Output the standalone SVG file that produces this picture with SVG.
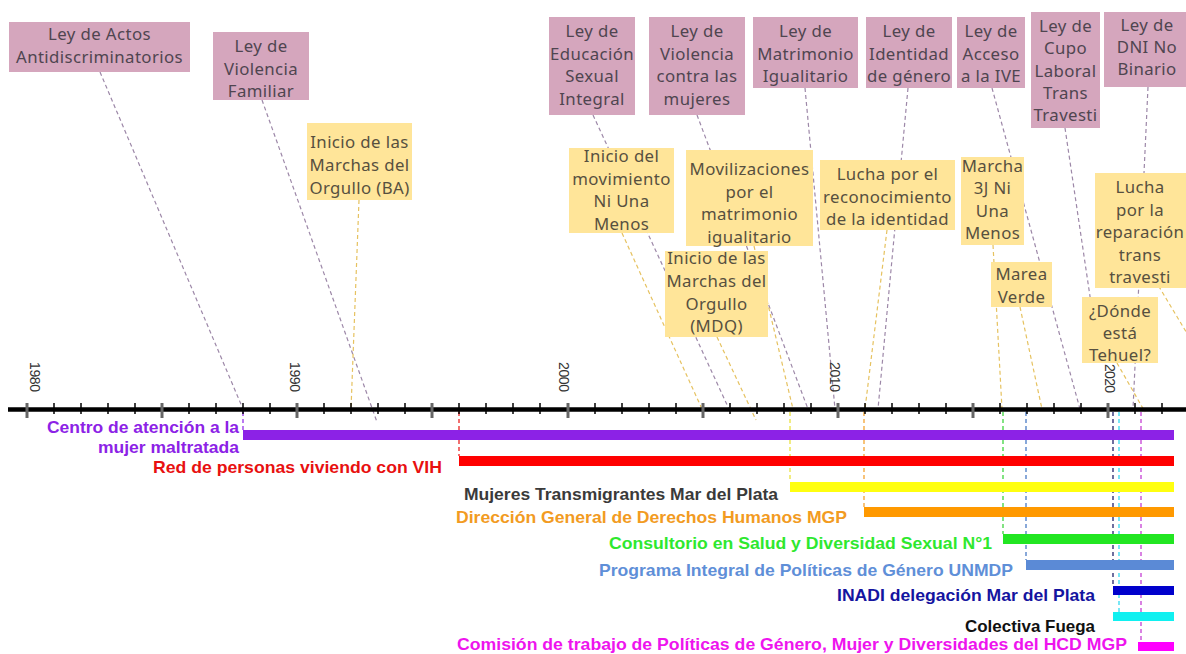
<svg xmlns="http://www.w3.org/2000/svg" width="1186" height="654" viewBox="0 0 1186 654">
<style>
.pk{fill:#d5a6bd}
.yl{fill:#ffe599}
.bt{font-family:"Noto Sans","Open Sans",sans-serif;font-size:16.8px;letter-spacing:0.4px;text-anchor:middle}
.pt{fill:#4f4550}
.yt{fill:#57503f}
.cp{fill:none;stroke:#9d88a8;stroke-width:1.2;stroke-dasharray:4 3}
.cy{fill:none;stroke:#e6c260;stroke-width:1.2;stroke-dasharray:4 3}
.vd{fill:none;stroke-width:1.2;stroke-dasharray:4 3}
.bl{font-family:"Liberation Sans",Arial,sans-serif;font-size:17px;font-weight:bold;text-anchor:end}
.yr{font-family:"Liberation Sans",Arial,sans-serif;font-size:14px;fill:#333}
.mt{stroke:#000;stroke-width:1.5}
.Mt{stroke:#666;stroke-width:3}
</style>
<rect width="1186" height="654" fill="#fff"/>
<g id="connectors">
<line class="cp" x1="100" y1="72" x2="243" y2="409"/>
<line class="cp" x1="262" y1="100" x2="377" y2="422"/>
<line class="cy" x1="359" y1="200" x2="351" y2="409"/>
<line class="cp" x1="593" y1="115" x2="729" y2="409"/>
<line class="cy" x1="622" y1="233" x2="702" y2="409"/>
<line class="cp" x1="697" y1="115" x2="808" y2="409"/>
<line class="cy" x1="717" y1="337" x2="756" y2="420"/>
<line class="cy" x1="754" y1="246" x2="793" y2="409"/>
<line class="cp" x1="805" y1="88" x2="835" y2="409"/>
<line class="cp" x1="908" y1="88" x2="878" y2="409"/>
<line class="cy" x1="887" y1="230" x2="865" y2="409"/>
<line class="cp" x1="992" y1="88" x2="1080" y2="409"/>
<line class="cy" x1="993" y1="245" x2="1002" y2="409"/>
<line class="cy" x1="1020" y1="307" x2="1042" y2="409"/>
<line class="cp" x1="1065" y1="128" x2="1095" y2="330"/>
<line class="cp" x1="1148" y1="87" x2="1133" y2="409"/>
<line class="cy" x1="1117" y1="363" x2="1145" y2="412"/>
<line class="cy" x1="1155" y1="280" x2="1200" y2="355"/>
<line class="vd" stroke="#8c22e6" x1="243" y1="412" x2="243" y2="430"/>
<line class="vd" stroke="#e81010" x1="459" y1="412" x2="459" y2="456"/>
<line class="vd" stroke="#e8e030" x1="790" y1="412" x2="790" y2="482"/>
<line class="vd" stroke="#f29b22" x1="864" y1="412" x2="864" y2="507"/>
<line class="vd" stroke="#30d030" x1="1003" y1="412" x2="1003" y2="534"/>
<line class="vd" stroke="#3a6fc0" x1="1026" y1="412" x2="1026" y2="560"/>
<line class="vd" stroke="#101060" x1="1113" y1="412" x2="1113" y2="586"/>
<line class="vd" stroke="#20d8f0" x1="1119" y1="412" x2="1119" y2="612"/>
<line class="vd" stroke="#c030d0" x1="1141" y1="412" x2="1141" y2="642"/>
</g>
<g id="axis">
<line x1="8" y1="409.5" x2="1186" y2="409.5" stroke="#000" stroke-width="4.5"/>
<g class="mt">
<line x1="54" y1="403" x2="54" y2="414"/><line x1="81" y1="403" x2="81" y2="414"/><line x1="108" y1="403" x2="108" y2="414"/><line x1="135" y1="403" x2="135" y2="414"/>
<line x1="189" y1="403" x2="189" y2="414"/><line x1="216" y1="403" x2="216" y2="414"/><line x1="243" y1="403" x2="243" y2="414"/><line x1="270" y1="403" x2="270" y2="414"/>
<line x1="324" y1="403" x2="324" y2="414"/><line x1="351" y1="403" x2="351" y2="414"/><line x1="378" y1="403" x2="378" y2="414"/><line x1="405" y1="403" x2="405" y2="414"/>
<line x1="459" y1="403" x2="459" y2="414"/><line x1="486" y1="403" x2="486" y2="414"/><line x1="513" y1="403" x2="513" y2="414"/><line x1="540" y1="403" x2="540" y2="414"/>
<line x1="595" y1="403" x2="595" y2="414"/><line x1="622" y1="403" x2="622" y2="414"/><line x1="649" y1="403" x2="649" y2="414"/><line x1="676" y1="403" x2="676" y2="414"/>
<line x1="730" y1="403" x2="730" y2="414"/><line x1="757" y1="403" x2="757" y2="414"/><line x1="784" y1="403" x2="784" y2="414"/><line x1="811" y1="403" x2="811" y2="414"/>
<line x1="865" y1="403" x2="865" y2="414"/><line x1="892" y1="403" x2="892" y2="414"/><line x1="919" y1="403" x2="919" y2="414"/><line x1="946" y1="403" x2="946" y2="414"/>
<line x1="1000" y1="403" x2="1000" y2="414"/><line x1="1027" y1="403" x2="1027" y2="414"/><line x1="1054" y1="403" x2="1054" y2="414"/><line x1="1081" y1="403" x2="1081" y2="414"/>
<line x1="1135" y1="403" x2="1135" y2="414"/><line x1="1162" y1="403" x2="1162" y2="414"/>
</g>
<g class="Mt">
<line x1="27" y1="403" x2="27" y2="418"/><line x1="162" y1="403" x2="162" y2="418"/><line x1="297" y1="403" x2="297" y2="418"/><line x1="432" y1="403" x2="432" y2="418"/>
<line x1="568" y1="403" x2="568" y2="418"/><line x1="703" y1="403" x2="703" y2="418"/><line x1="838" y1="403" x2="838" y2="418"/><line x1="973" y1="403" x2="973" y2="418"/>
<line x1="1108" y1="403" x2="1108" y2="418"/>
</g>
<text class="yr" transform="translate(30,362) rotate(90)" textLength="30">1980</text>
<text class="yr" transform="translate(290,362) rotate(90)" textLength="30">1990</text>
<text class="yr" transform="translate(559,362) rotate(90)" textLength="30">2000</text>
<text class="yr" transform="translate(830,362) rotate(90)" textLength="30">2010</text>
<text class="yr" transform="translate(1105,364) rotate(90)" textLength="29">2020</text>
</g>
<g id="ley-actos"><rect class="pk" x="9" y="22" width="181" height="50"/><text class="bt pt"><tspan x="99.5" y="40">Ley de Actos</tspan><tspan x="99.5" y="63">Antidiscriminatorios</tspan></text></g>
<g id="ley-violencia-familiar"><rect class="pk" x="213" y="32" width="96" height="68"/><text class="bt pt"><tspan x="261" y="52">Ley de</tspan><tspan x="261" y="75">Violencia</tspan><tspan x="261" y="97">Familiar</tspan></text></g>
<g id="marchas-ba"><rect class="yl" x="307" y="123" width="105" height="77"/><text class="bt yt"><tspan x="359.5" y="148">Inicio de las</tspan><tspan x="359.5" y="171">Marchas del</tspan><tspan x="359.5" y="194">Orgullo (BA)</tspan></text></g>
<g id="ley-esi"><rect class="pk" x="549" y="17" width="86" height="98"/><text class="bt pt"><tspan x="592" y="37">Ley de</tspan><tspan x="592" y="59.5">Educación</tspan><tspan x="592" y="82">Sexual</tspan><tspan x="592" y="104.5">Integral</tspan></text></g>
<g id="ley-violencia-mujeres"><rect class="pk" x="649" y="17" width="96" height="98"/><text class="bt pt"><tspan x="697" y="37">Ley de</tspan><tspan x="697" y="59.5">Violencia</tspan><tspan x="697" y="82">contra las</tspan><tspan x="697" y="104.5">mujeres</tspan></text></g>
<g id="ley-matrimonio"><rect class="pk" x="753" y="17" width="105" height="71"/><text class="bt pt"><tspan x="805.5" y="37">Ley de</tspan><tspan x="805.5" y="59.5">Matrimonio</tspan><tspan x="805.5" y="82">Igualitario</tspan></text></g>
<g id="ley-identidad"><rect class="pk" x="866" y="17" width="86" height="71"/><text class="bt pt"><tspan x="909" y="37">Ley de</tspan><tspan x="909" y="59.5">Identidad</tspan><tspan x="909" y="82">de género</tspan></text></g>
<g id="ley-ive"><rect class="pk" x="957" y="17" width="68" height="71"/><text class="bt pt"><tspan x="991" y="37">Ley de</tspan><tspan x="991" y="59.5">Acceso</tspan><tspan x="991" y="82">a la IVE</tspan></text></g>
<g id="ley-cupo"><rect class="pk" x="1031" y="12" width="69" height="116"/><text class="bt pt"><tspan x="1065.5" y="32">Ley de</tspan><tspan x="1065.5" y="54">Cupo</tspan><tspan x="1065.5" y="76.5">Laboral</tspan><tspan x="1065.5" y="99">Trans</tspan><tspan x="1065.5" y="121">Travesti</tspan></text></g>
<g id="ley-dni"><rect class="pk" x="1104" y="12" width="82" height="75"/><text class="bt pt"><tspan x="1147" y="31">Ley de</tspan><tspan x="1147" y="53">DNI No</tspan><tspan x="1147" y="75">Binario</tspan></text></g>
<g id="ni-una-menos"><rect class="yl" x="569" y="148" width="105" height="85"/><text class="bt yt"><tspan x="621.5" y="162">Inicio del</tspan><tspan x="621.5" y="184.5">movimiento</tspan><tspan x="621.5" y="207">Ni Una</tspan><tspan x="621.5" y="229.5">Menos</tspan></text></g>
<g id="movilizaciones"><rect class="yl" x="686" y="150" width="127" height="96"/><text class="bt yt"><tspan x="749.5" y="175">Movilizaciones</tspan><tspan x="749.5" y="197.5">por el</tspan><tspan x="749.5" y="220">matrimonio</tspan><tspan x="749.5" y="242.5">igualitario</tspan></text></g>
<g id="lucha-identidad"><rect class="yl" x="820" y="160" width="135" height="70"/><text class="bt yt"><tspan x="887.5" y="180">Lucha por el</tspan><tspan x="887.5" y="202.5">reconocimiento</tspan><tspan x="887.5" y="225">de la identidad</tspan></text></g>
<g id="marcha-3j"><rect class="yl" x="961" y="157" width="63" height="88"/><text class="bt yt"><tspan x="992.5" y="172">Marcha</tspan><tspan x="992.5" y="194">3J Ni</tspan><tspan x="992.5" y="216.5">Una</tspan><tspan x="992.5" y="239">Menos</tspan></text></g>
<g id="lucha-reparacion"><rect class="yl" x="1095" y="173" width="91" height="115"/><text class="bt yt"><tspan x="1140" y="193">Lucha</tspan><tspan x="1140" y="215.5">por la</tspan><tspan x="1140" y="238">reparación</tspan><tspan x="1140" y="260.5">trans</tspan><tspan x="1140" y="283">travesti</tspan></text></g>
<g id="marea-verde"><rect class="yl" x="991" y="262" width="61" height="45"/><text class="bt yt"><tspan x="1021.5" y="280">Marea</tspan><tspan x="1021.5" y="303">Verde</tspan></text></g>
<g id="donde-tehuel"><rect class="yl" x="1082" y="297" width="76" height="66"/><text class="bt yt"><tspan x="1120" y="317">¿Dónde</tspan><tspan x="1120" y="339">está</tspan><tspan x="1120" y="361">Tehuel?</tspan></text></g>
<g id="marchas-mdq"><rect class="yl" x="665" y="251" width="103" height="86"/><text class="bt yt"><tspan x="716.5" y="264">Inicio de las</tspan><tspan x="716.5" y="287">Marchas del</tspan><tspan x="716.5" y="310">Orgullo</tspan><tspan x="716.5" y="332">(MDQ)</tspan></text></g>
<g id="bar-centro"><rect x="243" y="430" width="931" height="10" fill="#8c22e6"/><text class="bl" fill="#8c22e6"><tspan x="239" y="433" textLength="192" lengthAdjust="spacingAndGlyphs">Centro de atención a la</tspan><tspan x="239" y="453" textLength="141" lengthAdjust="spacingAndGlyphs">mujer maltratada</tspan></text></g>
<g id="bar-red-vih"><rect x="459" y="456" width="715" height="10" fill="#ff0000"/><text class="bl" fill="#e81010" x="442" y="473" textLength="289" lengthAdjust="spacingAndGlyphs">Red de personas viviendo con VIH</text></g>
<g id="bar-mujeres-trans"><rect x="790" y="482" width="384" height="10" fill="#ffff10"/><text class="bl" fill="#3a3a3a" x="778" y="500" textLength="314" lengthAdjust="spacingAndGlyphs">Mujeres Transmigrantes Mar del Plata</text></g>
<g id="bar-ddhh"><rect x="864" y="507" width="310" height="10" fill="#ff9900"/><text class="bl" fill="#f29b22" x="847" y="523" textLength="391" lengthAdjust="spacingAndGlyphs">Dirección General de Derechos Humanos MGP</text></g>
<g id="bar-consultorio"><rect x="1003" y="534" width="171" height="10" fill="#22e622"/><text class="bl" fill="#2ee82e" x="992" y="549" textLength="383" lengthAdjust="spacingAndGlyphs">Consultorio en Salud y Diversidad Sexual N°1</text></g>
<g id="bar-unmdp"><rect x="1026" y="560" width="148" height="10" fill="#5b8ad6"/><text class="bl" fill="#5f8fd8" x="1013" y="576" textLength="414" lengthAdjust="spacingAndGlyphs">Programa Integral de Políticas de Género UNMDP</text></g>
<g id="bar-inadi"><rect x="1113" y="586" width="61" height="9" fill="#0000cc"/><text class="bl" fill="#1414a0" x="1095" y="601" textLength="258" lengthAdjust="spacingAndGlyphs">INADI delegación Mar del Plata</text></g>
<g id="bar-fuega"><rect x="1113" y="612" width="61" height="9" fill="#10f0f0"/><text class="bl" fill="#111" x="1095" y="632" textLength="130" lengthAdjust="spacingAndGlyphs">Colectiva Fuega</text></g>
<g id="bar-hcd"><rect x="1138" y="642" width="36" height="9" fill="#ff00ff"/><text class="bl" fill="#ee14ee" x="1127" y="650" textLength="670" lengthAdjust="spacingAndGlyphs">Comisión de trabajo de Políticas de Género, Mujer y Diversidades del HCD MGP</text></g>
</svg>
